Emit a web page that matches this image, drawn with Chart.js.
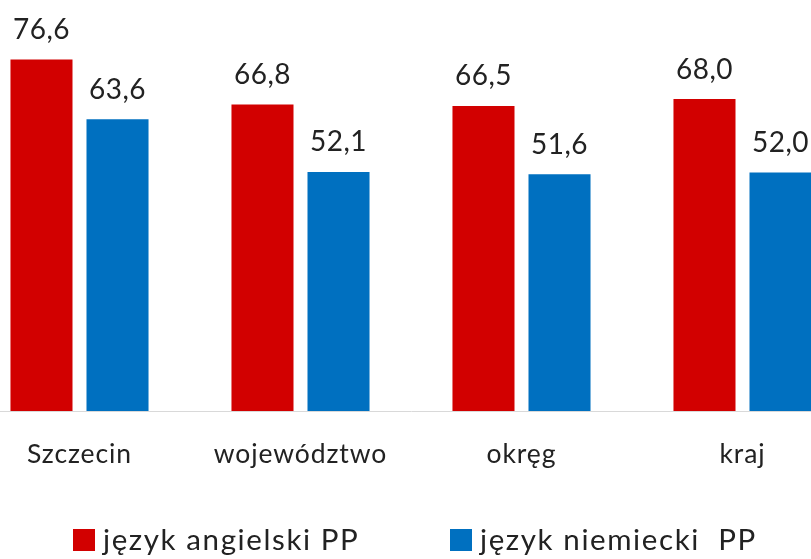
<!DOCTYPE html>
<html lang="pl">
<head>
    <meta charset="UTF-8">
    <title>Wyniki PP</title>
    <style>
        html, body { margin: 0; padding: 0; background: #fff; overflow: hidden; }
        body { width: 811px; height: 559px; position: relative; }
        .chart-box { position: absolute; left: -31px; top: 0; width: 884px; height: 559px; }
    </style>
</head>
<body>
    <div class="chart-box">
        <canvas id="scoreChart"></canvas>
    </div>

    <script src="https://cdn.jsdelivr.net/npm/chart.js"></script>
    <script>
        // Data
        const categories = ['Szczecin', 'województwo', 'okręg', 'kraj'];
        const seriesNames = ['język angielski PP', 'język niemiecki  PP'];
        const englishPP = [76.6, 66.8, 66.5, 68.0];
        const germanPP = [63.6, 52.1, 51.6, 52.0];

        const FONT = 'Lato, "Liberation Sans", sans-serif';
        const TEXT = '#222222';

        // value labels above bars, with a decimal comma
        const valueLabels = {
            id: 'valueLabels',
            afterDatasetsDraw(chart) {
                const ctx = chart.ctx;
                ctx.save();
                ctx.font = '28px ' + FONT;
                ctx.letterSpacing = '0.5px';
                ctx.fillStyle = TEXT;
                ctx.textAlign = 'center';
                ctx.textBaseline = 'alphabetic';
                chart.data.datasets.forEach((ds, i) => {
                    chart.getDatasetMeta(i).data.forEach((bar, j) => {
                        const txt = ds.data[j].toFixed(1).replace('.', ',');
                        ctx.fillText(txt, bar.x, bar.y - 20.5);
                    });
                });
                ctx.restore();
            }
        };

        // category names under the axis, placed with the x scale
        const categoryLabels = {
            id: 'categoryLabels',
            afterDraw(chart) {
                const ctx = chart.ctx;
                const xScale = chart.scales.x;
                ctx.save();
                ctx.font = '26.5px ' + FONT;
                ctx.letterSpacing = '0.9px';
                ctx.fillStyle = TEXT;
                ctx.textAlign = 'center';
                ctx.textBaseline = 'alphabetic';
                chart.data.labels.forEach((lab, i) => {
                    ctx.fillText(lab, xScale.getPixelForValue(i), 463);
                });
                ctx.restore();
            }
        };

        // legend drawn by hand so it sits where the original one does
        const bottomLegend = {
            id: 'bottomLegend',
            afterDraw(chart) {
                const ctx = chart.ctx;
                const starts = [104, 481];
                ctx.save();
                ctx.font = '29.5px ' + FONT;
                ctx.letterSpacing = '1.6px';
                ctx.textBaseline = 'alphabetic';
                chart.data.datasets.forEach((ds, i) => {
                    const x = starts[i];
                    ctx.fillStyle = ds.backgroundColor;
                    ctx.fillRect(x, 529, 22, 22);
                    ctx.fillStyle = TEXT;
                    ctx.fillText(ds.label, x + 30, 550);
                });
                ctx.restore();
            }
        };

        const ctx = document.getElementById('scoreChart').getContext('2d');
        const scoreChart = new Chart(ctx, {
            type: 'bar',
            data: {
                labels: categories,
                datasets: [{
                    label: seriesNames[0],
                    data: englishPP,
                    backgroundColor: '#d20000'
                }, {
                    label: seriesNames[1],
                    data: germanPP,
                    backgroundColor: '#0070c0'
                }]
            },
            options: {
                responsive: true,
                maintainAspectRatio: false,
                animation: false,
                categoryPercentage: 0.688,
                barPercentage: 0.816,
                layout: {
                    padding: { top: 44, left: 0, right: 0, bottom: 148 }
                },
                plugins: {
                    legend: { display: false },
                    tooltip: { enabled: false }
                },
                scales: {
                    x: {
                        grid: { display: false, drawTicks: false },
                        border: { color: '#d9d9d9', width: 1 },
                        ticks: { display: false }
                    },
                    y: {
                        display: false,
                        min: 0,
                        max: 80
                    }
                }
            },
            plugins: [valueLabels, categoryLabels, bottomLegend]
        });
    </script>
</body>
</html>
